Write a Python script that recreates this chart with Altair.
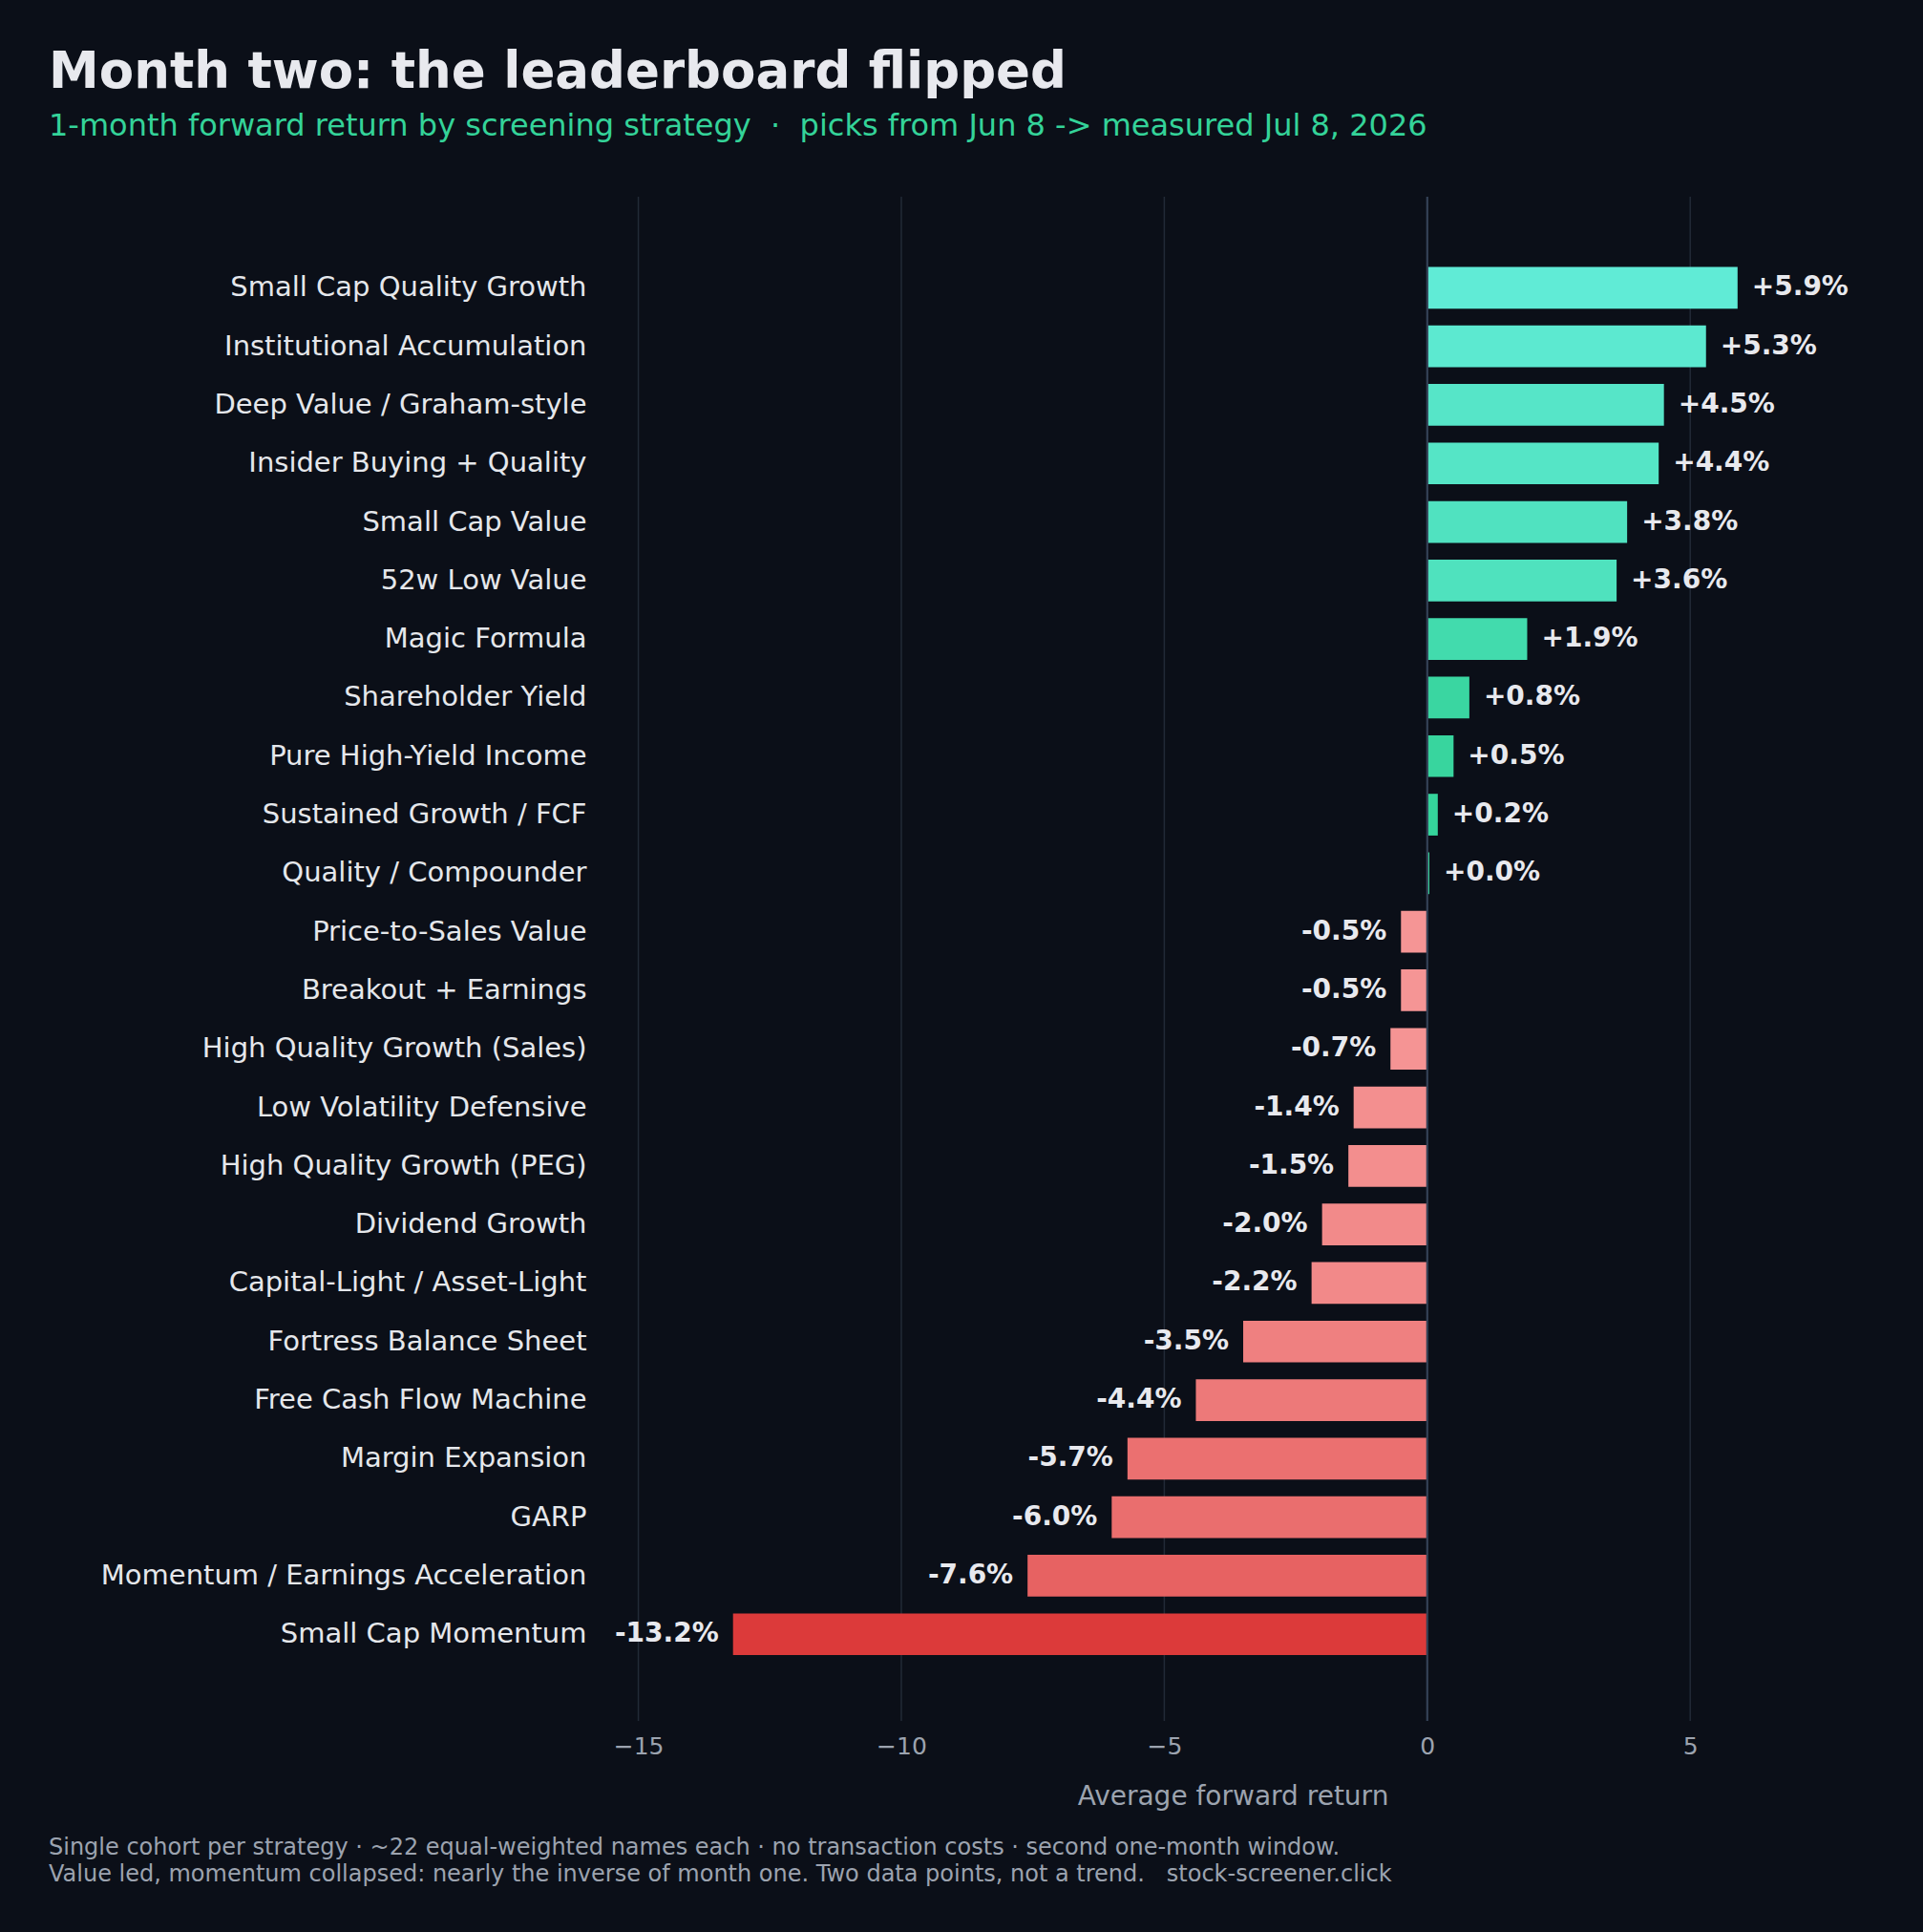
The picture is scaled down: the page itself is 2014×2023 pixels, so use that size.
import altair as alt
import pandas as pd

strategies = [
    "Small Cap Quality Growth", "Institutional Accumulation", "Deep Value / Graham-style",
    "Insider Buying + Quality", "Small Cap Value", "52w Low Value", "Magic Formula",
    "Shareholder Yield", "Pure High-Yield Income", "Sustained Growth / FCF",
    "Quality / Compounder", "Price-to-Sales Value", "Breakout + Earnings",
    "High Quality Growth (Sales)", "Low Volatility Defensive", "High Quality Growth (PEG)",
    "Dividend Growth", "Capital-Light / Asset-Light", "Fortress Balance Sheet",
    "Free Cash Flow Machine", "Margin Expansion", "GARP",
    "Momentum / Earnings Acceleration", "Small Cap Momentum",
]
returns = [5.9, 5.3, 4.5, 4.4, 3.8, 3.6, 1.9, 0.8, 0.5, 0.2, 0.04, -0.5, -0.5, -0.7,
           -1.4, -1.5, -2.0, -2.2, -3.5, -4.4, -5.7, -6.0, -7.6, -13.2]
x_ticks = [-15, -10, -5, 0, 5]

NB = "\u00a0"
title_text = "Month two: the leaderboard flipped"
subtitle_text = ("1-month forward return by screening strategy" + NB * 2 + "\u00b7" + NB * 2
                 + "picks from Jun 8 -> measured Jul 8, 2026")
footer_lines = [
    "Single cohort per strategy \u00b7 ~22 equal-weighted names each \u00b7 no transaction costs \u00b7 second one-month window.",
    "Value led, momentum collapsed: nearly the inverse of month one. Two data points, not a trend." + NB * 3
    + "stock-screener.click",
]

df = pd.DataFrame({"strategy": strategies, "value": returns})
grid_df = pd.DataFrame({"tick": x_ticks})

BG = "#0b0f18"
FONT = "DejaVu Sans"

x_scale = alt.Scale(domain=[-15.7, 8.3], nice=False, zero=False)

y_enc = alt.Y(
    "strategy:N", sort=None, title=None,
    scale=alt.Scale(paddingInner=0.287, paddingOuter=0, range=[73.5, 1527.1]),
    axis=alt.Axis(labelFontSize=29, labelColor="#e5e7eb", ticks=False, domain=False,
                  labelPadding=16, grid=False, labelLimit=900),
)
x_enc = alt.X(
    "value:Q",
    scale=x_scale,
    axis=alt.Axis(values=x_ticks, format="d", grid=False,
                  domain=False, ticks=False, labelFontSize=25, labelColor="#9ca3af",
                  labelPadding=14, title="Average forward return", titleFontSize=28,
                  titleColor="#9ca3af", titleFontWeight="normal", titlePadding=26),
)

grid = alt.Chart(grid_df).mark_rule(color="#222a37", strokeWidth=1.5).encode(
    x=alt.X("tick:Q", scale=x_scale)
)

base = alt.Chart(df)

bars = base.mark_bar().encode(
    y=y_enc,
    x=x_enc,
    color=alt.Color(
        "value:Q", legend=None,
        scale=alt.Scale(domain=[-13.2, -0.5, 0, 5.9],
                        range=["#dc3a3a", "#f59595", "#34d399", "#60ebd6"],
                        interpolate="rgb"),
    ),
)

zero_rule = alt.Chart(pd.DataFrame({"z": [0]})).mark_rule(color="#334155", strokeWidth=2.2).encode(
    x=alt.X("z:Q")
)

label_expr = "(datum.value >= 0 ? '+' : '-') + format(abs(datum.value), '.1f') + '%'"

pos_text = base.transform_filter("datum.value >= 0").transform_calculate(
    label=label_expr
).mark_text(align="left", baseline="middle", dx=15, fontSize=28, fontWeight="bold",
            color="#e8e9ee").encode(y=alt.Y("strategy:N", sort=None), x="value:Q", text="label:N")

neg_text = base.transform_filter("datum.value < 0").transform_calculate(
    label=label_expr
).mark_text(align="right", baseline="middle", dx=-15, fontSize=28, fontWeight="bold",
            color="#e8e9ee").encode(y=alt.Y("strategy:N", sort=None), x="value:Q", text="label:N")

footer = alt.Chart(pd.DataFrame({"f": [0]})).mark_text(
    align="left", baseline="alphabetic", fontSize=24, color="#9ca3af", lineHeight=28
).encode(x=alt.value(-579), y=alt.value(1736), text=alt.value(footer_lines))

chart = alt.layer(grid, bars, zero_rule, pos_text, neg_text, footer).properties(
    width=1322,
    height=1596,
    autosize="none",
    padding={"left": 630, "top": 206, "right": 62, "bottom": 221},
    background=BG,
    title=alt.TitleParams(
        text=title_text, subtitle=subtitle_text, anchor="start", frame="group",
        dx=-579, offset=57, fontSize=53, fontWeight="bold", color="#e8e9ee",
        subtitleFontSize=32, subtitleColor="#34d399", subtitlePadding=14, font=FONT,
        subtitleFont=FONT,
    ),
).configure(font=FONT).configure_view(strokeWidth=0)

chart.save("out.html", embed_options={"renderer": "svg", "actions": False})
